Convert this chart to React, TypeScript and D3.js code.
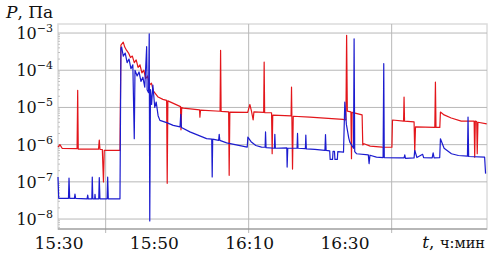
import * as React from 'react';
import * as d3 from 'd3';

// time in minutes after 15:30, pressure in Pa
const redSeries: [number, number][] = [
  [0, 8.6e-7], [0.4, 1.0e-6], [0.9, 7.9e-7], [4.0, 7.8e-7], [4.13, 2.9e-5], [4.25, 7.6e-7],
  [8.5, 7.6e-7], [8.66, 1.33e-6], [8.8, 7.5e-7], [9.3, 7.4e-7], [9.54, 9.9e-8], [9.7, 7.0e-7],
  [13.0, 7.0e-7], [13.2, 4.75e-4], [13.69, 5.7e-4], [14.0, 4.2e-4], [14.4, 3.4e-4], [14.8, 2.9e-4],
  [15.2, 2.2e-4], [15.6, 2.4e-4], [16.0, 1.6e-4], [16.4, 1.9e-4], [16.8, 1.2e-4], [17.2, 1.4e-4],
  [17.6, 8.5e-5], [18.0, 1.0e-4], [18.4, 6.0e-5], [18.8, 7.0e-5], [19.2, 4.0e-5], [19.6, 4.5e-5],
  [20.0, 2.8e-5], [20.4, 2.4e-5], [21.0, 1.9e-5], [22.0, 1.65e-5], [22.79, 1.55e-5], [22.91, 9.1e-8],
  [23.05, 1.5e-5], [25.7, 1.05e-5], [25.8, 2.5e-6], [25.95, 1.0e-5], [26.3, 9.6e-6], [29.7, 8.6e-6],
  [29.77, 5.5e-6], [29.9, 8.5e-6], [34.0, 7.9e-6], [34.11, 3.4e-4], [34.22, 7.8e-6], [35.8, 7.6e-6],
  [35.91, 1.5e-7], [36.05, 7.5e-6], [39.8, 7.4e-6], [40.25, 1.2e-5], [40.6, 7.8e-6], [40.94, 4.6e-6],
  [41.1, 7.6e-6], [43.15, 7.4e-6], [43.25, 1.66e-4], [43.35, 7.3e-6], [44.8, 7.2e-6], [44.93, 5.7e-7],
  [45.05, 6.2e-6], [48.9, 5.9e-6], [48.99, 3.5e-5], [49.2, 2.2e-7], [49.35, 5.8e-6], [52.83, 5.5e-6],
  [59.75, 4.8e-6], [60.4, 4.6e-6], [60.55, 8.7e-4], [60.7, 8.0e-6], [61.45, 7.6e-6], [61.57, 4.2e-7],
  [61.7, 7.4e-6], [63.8, 6.3e-6], [63.94, 9.8e-7], [64.2, 1.06e-6], [65.5, 9.1e-7], [68.0, 8.6e-7],
  [70.05, 8.5e-7], [70.17, 4.6e-6], [72.5, 4.3e-6], [72.6, 1.9e-5], [72.7, 4.3e-6], [74.7, 4.1e-6],
  [74.84, 6.3e-7], [75.0, 3.0e-6], [79.05, 2.9e-6], [79.18, 4.8e-5], [79.3, 2.9e-6], [80.1, 2.9e-6],
  [80.23, 7.5e-6], [81.0, 6.3e-6], [82.5, 5.2e-6], [84.6, 4.3e-6], [87.3, 4.3e-6], [87.42, 4.6e-7],
  [87.55, 4.3e-6], [87.84, 4.2e-6], [87.95, 5.7e-7], [88.1, 4.0e-6], [89.94, 3.6e-6],
];

const blueSeries: [number, number][] = [
  [0.0, 1.35e-7], [0.15, 3.6e-8], [2.2, 3.6e-8], [2.31, 1.27e-7], [2.45, 3.6e-8], [3.45, 3.6e-8],
  [3.56, 4.7e-8], [3.7, 3.6e-8], [6.1, 3.5e-8], [6.23, 4.4e-8], [6.35, 3.5e-8], [7.1, 3.5e-8],
  [7.19, 1.35e-7], [7.3, 3.5e-8], [7.7, 3.5e-8], [7.76, 4.6e-8], [7.85, 3.5e-8], [8.55, 3.5e-8],
  [8.66, 1.3e-7], [8.8, 3.5e-8], [10.3, 3.5e-8], [10.42, 1.35e-7], [10.55, 3.5e-8], [13.0, 3.5e-8],
  [13.2, 4.0e-4], [13.35, 4.2e-4], [13.7, 2.4e-4], [14.1, 2.9e-4], [14.5, 1.6e-4], [14.9, 2.0e-4],
  [15.3, 1.1e-4], [15.7, 1.4e-4], [16.0, 1.44e-6], [16.15, 1.0e-4], [16.6, 7.0e-5], [17.0, 9.0e-5],
  [17.4, 5.0e-5], [17.8, 6.5e-5], [18.2, 3.5e-5], [18.6, 4.3e-4], [18.7, 3.0e-5], [19.0, 2.5e-5],
  [19.14, 9.5e-4], [19.25, 8.9e-9], [19.4, 3.0e-5], [19.64, 1.2e-5], [19.9, 4.0e-5], [20.3, 1.0e-5],
  [20.6, 1.4e-5], [21.0, 6.0e-6], [21.38, 4.5e-6], [22.8, 3.9e-6], [24.17, 3.3e-6], [25.6, 3.0e-6],
  [25.75, 6.5e-6], [25.9, 2.9e-6], [27.67, 2.2e-6], [31.17, 1.45e-6], [32.25, 1.4e-6], [32.35, 1.35e-7],
  [32.45, 1.4e-6], [33.7, 1.3e-6], [33.82, 1.9e-6], [33.95, 1.3e-6], [35.37, 1.12e-6], [39.7, 8.6e-7],
  [39.83, 1.6e-6], [40.5, 1.2e-6], [41.5, 9.5e-7], [42.7, 8.6e-7], [43.45, 8.5e-7], [43.54, 2.2e-6],
  [43.65, 8.3e-7], [45.4, 8.0e-7], [45.49, 1.9e-6], [45.6, 8.0e-7], [48.0, 8.2e-7], [48.07, 2.5e-7],
  [48.2, 8.0e-7], [50.15, 8.0e-7], [50.25, 2.0e-6], [50.35, 8.0e-7], [51.9, 7.8e-7], [51.99, 1.8e-6],
  [52.1, 7.7e-7], [53.88, 7.5e-7], [56.0, 7.0e-7], [56.12, 1.86e-6], [56.25, 7.0e-7], [57.0, 6.8e-7],
  [57.1, 4.0e-7], [57.6, 4.0e-7], [57.7, 6.6e-7], [58.0, 6.6e-7], [58.1, 4.0e-7], [58.6, 4.0e-7],
  [58.7, 6.5e-7], [59.9, 6.3e-7], [60.17, 1.4e-5], [60.5, 3.5e-6], [61.0, 1.5e-6], [61.22, 1.17e-6],
  [62.0, 8.0e-7], [62.12, 7.0e-4], [62.25, 6.5e-7], [62.62, 5.7e-7], [65.1, 5.3e-7], [65.26, 3.1e-7],
  [65.45, 5.2e-7], [66.81, 4.6e-7], [68.2, 4.5e-7], [68.34, 1.5e-4], [68.45, 4.5e-7], [71.7, 4.4e-7],
  [72.6, 4.4e-7], [72.75, 5.3e-7], [72.9, 4.3e-7], [74.7, 4.4e-7], [74.84, 7.0e-7], [75.3, 4.5e-7],
  [76.5, 5.5e-7], [76.7, 4.5e-7], [78.5, 4.4e-7], [78.7, 6.0e-7], [78.9, 4.4e-7], [80.08, 4.5e-7],
  [80.23, 1.44e-6], [81.0, 8.0e-7], [82.54, 5.7e-7], [84.0, 5.1e-7], [85.9, 4.9e-7], [86.02, 5.5e-6],
  [86.15, 4.8e-7], [89.5, 4.6e-7], [89.7, 1.66e-7],
];

const yTickExps = [-3, -4, -5, -6, -7, -8];
const xTickMinutes = [0, 20, 40, 60];
const xTickLabels = ['15:30', '15:50', '16:10', '16:30'];
const xGridMinutes = [10, 40, 70];

const W = 493, H = 255;
const left = 58, right = 487, top = 24, bottom = 229;
const serif = 'DejaVu Serif';

export default function App() {
  const x = d3.scaleLinear().domain([0, 90]).range([left, right]);
  const y = d3.scaleLog().domain([5.4e-9, 1.75e-3]).range([bottom, top]);

  const line = d3.line<[number, number]>()
    .x(d => x(d[0]))
    .y(d => y(d[1]));

  const minor: number[] = [];
  yTickExps.forEach(e => {
    for (let k = 2; k <= 9; k++) {
      const v = k * Math.pow(10, e - 1);
      if (v > 5.4e-9) minor.push(v);
    }
  });

  return (
    <svg width={W} height={H} style={{ position: 'absolute', left: 0, top: 0, background: '#fff' }}>
      {/* frame and grid */}
      <rect x={left} y={top} width={right - left} height={bottom - top} fill="none" stroke="#dcdcdc" strokeWidth={1.5} />
      {yTickExps.map(e => (
        <line key={'gy' + e} x1={left} x2={right} y1={y(Math.pow(10, e))} y2={y(Math.pow(10, e))}
          stroke="#b8b8b8" strokeWidth={1} />
      ))}
      {xGridMinutes.map(m => (
        <line key={'gx' + m} x1={x(m)} x2={x(m)} y1={top} y2={bottom + 4} stroke="#b8b8b8" strokeWidth={1} />
      ))}
      {minor.map((v, i) => (
        <line key={'mn' + i} x1={left} x2={left + 2} y1={y(v)} y2={y(v)} stroke="#c0c0c0" strokeWidth={1} />
      ))}
      <line x1={left} x2={right} y1={bottom} y2={bottom} stroke="#8a8a8a" strokeWidth={1.2} />

      {/* series */}
      <path d={line(redSeries) || ''} fill="none" stroke="#e3161b" strokeWidth={1.2} strokeLinejoin="round" />
      <path d={line(blueSeries) || ''} fill="none" stroke="#1c1ccf" strokeWidth={1.2} strokeLinejoin="round" />

      {/* y labels */}
      {yTickExps.map(e => (
        <text key={'ty' + e} x={53} y={y(Math.pow(10, e)) + 6} textAnchor="end" fontSize={16}
          fontFamily={serif} fill="#111">
          10<tspan dy={-7} fontSize={11}>{'\u2212' + Math.abs(e)}</tspan>
        </text>
      ))}
      {/* x labels */}
      {xTickMinutes.map((m, i) => (
        <text key={'tx' + m} x={x(m) + 1} y={249} textAnchor="middle" fontSize={17}
          fontFamily={serif} fill="#111">
          {xTickLabels[i]}
        </text>
      ))}
      <text x={6} y={18} fontSize={17} fontFamily={serif} fill="#111">
        <tspan fontStyle="italic">P</tspan>, Па
      </text>
      <text x={485} y={248} textAnchor="end" fontSize={17} fontFamily={serif} fill="#111">
        <tspan fontStyle="italic">t</tspan>, <tspan fontSize={14.5}>ч:мин</tspan>
      </text>
    </svg>
  );
}
